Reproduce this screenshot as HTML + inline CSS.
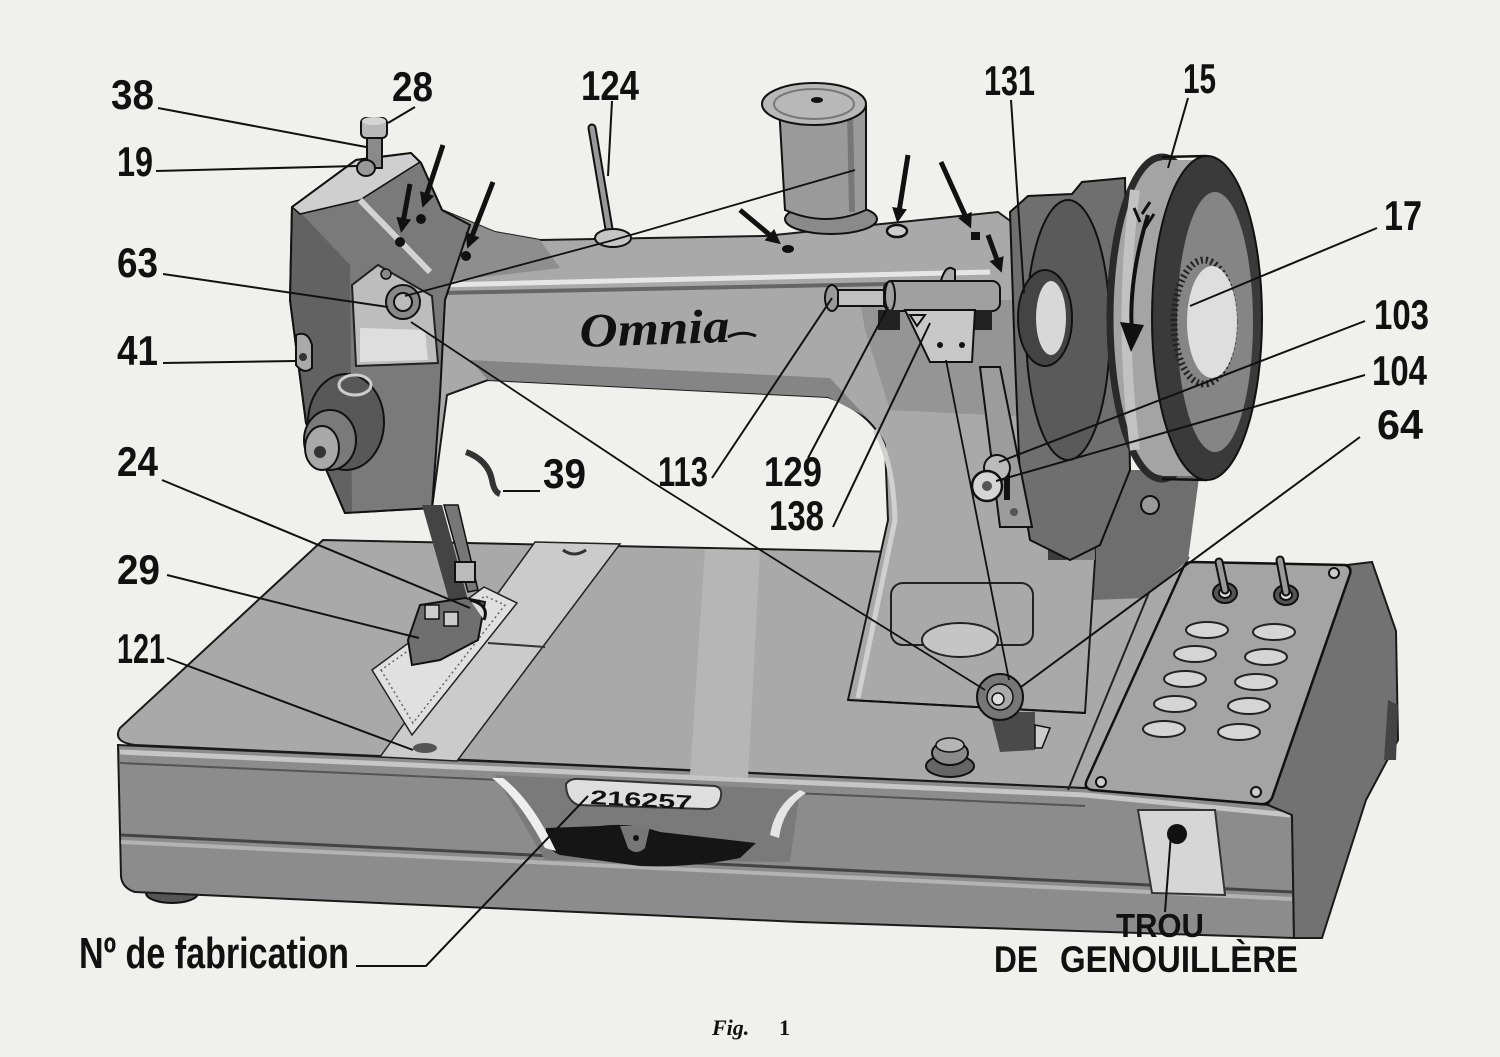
<!DOCTYPE html>
<html><head><meta charset="utf-8"><style>
html,body{margin:0;padding:0;background:#f0f0ec;}
svg{display:block}
</style></head><body>
<svg width="1500" height="1057" viewBox="0 0 1500 1057" xmlns="http://www.w3.org/2000/svg">
<defs>
<marker id="ah" markerWidth="3" markerHeight="3" refX="2" refY="1.5" orient="auto" markerUnits="strokeWidth"><path d="M0,0 L3,1.5 L0,3 Z" fill="#111"/></marker>
</defs>
<rect width="1500" height="1057" fill="#f0f0ec"/>

<!-- foot -->
<ellipse cx="172" cy="893" rx="26" ry="10" fill="#555" stroke="#111" stroke-width="2"/>

<!-- base front face -->
<path d="M118,745 L1085,788 L1268,805 L1292,815 L1294,938 L800,922 L135,892 Q122,888 121,876 Z" fill="#8c8c8c" stroke="#1a1a1a" stroke-width="2"/>
<path d="M120,752 L1085,795 L1290,815" stroke="#c6c6c6" stroke-width="5" fill="none"/>
<path d="M120,763 L1085,806" stroke="#555" stroke-width="2" fill="none"/>
<path d="M121,835 L1292,892" stroke="#444" stroke-width="3" fill="none"/>
<path d="M121,842 L1292,899" stroke="#b3b3b3" stroke-width="4" fill="none"/>
<!-- cavity area -->
<path d="M495,775 L800,790 L790,862 L545,860 Z" fill="#7a7a7a"/>
<path d="M546,828 L600,826 Q630,822 660,832 L756,843 L740,858 Q690,868 640,866 L560,855 Q545,850 546,828 Z" fill="#151515"/>
<path d="M620,826 L650,826 L645,848 Q636,856 628,848 Z" fill="#777"/>
<circle cx="636" cy="838" r="3" fill="#111"/>
<path d="M492,778 Q520,800 545,848 L556,851 Q532,800 503,778 Z" fill="#eeeeee"/>
<path d="M770,835 Q775,805 800,790 L806,793 Q783,808 779,838 Z" fill="#e5e5e5"/>
<!-- serial plate -->
<path d="M566,784 Q570,778 580,779 L715,786 Q724,788 720,800 Q716,810 705,809 L578,805 Q566,800 566,784 Z" fill="#dedede" stroke="#333" stroke-width="2"/>
<text x="590" y="804" font-family="Liberation Sans, sans-serif" font-weight="bold" font-size="20" textLength="102" lengthAdjust="spacingAndGlyphs" fill="#111" transform="rotate(3 590 804)">216257</text>
<!-- knee plate -->
<path d="M1138,810 L1215,810 L1225,895 L1152,893 Z" fill="#d6d6d6" stroke="#333" stroke-width="2"/>
<circle cx="1177" cy="834" r="10" fill="#111"/>

<!-- right face -->
<path d="M1347,565 L1372,562 L1396,631 L1398,740 L1366,800 L1322,938 L1294,938 L1292,815 L1268,805 Z" fill="#727272" stroke="#1a1a1a" stroke-width="2"/>
<path d="M1388,700 L1398,705 L1396,760 L1384,760 Z" fill="#444"/>

<!-- bed top -->
<path d="M323,540 L1188,558 L1085,788 L135,745 Q112,742 120,728 Z" fill="#a9a9a9" stroke="#1a1a1a" stroke-width="2"/>
<path d="M705,549 L760,550 L748,778 L690,775 Z" fill="#b6b6b6"/>
<path d="M535,542 L620,544 L457,761 L380,757 Z" fill="#cbcbcb" stroke="#222" stroke-width="1.5"/>
<path d="M488,643 L545,647" stroke="#333" stroke-width="2"/>
<path d="M563,550 Q574,558 586,550" stroke="#333" stroke-width="3" fill="none"/>
<ellipse cx="425" cy="748" rx="12" ry="5" fill="#555"/>
<path d="M1150,590 L1068,790" stroke="#222" stroke-width="2"/>
<!-- fabric -->
<path d="M372,670 L412,735 L517,603 L484,587 Z" fill="#e0e0e0" stroke="#222" stroke-width="1.5"/>
<path d="M381,670 L413,723 L505,605 L485,596 Z" fill="none" stroke="#666" stroke-width="1.5" stroke-dasharray="2 3"/>

<!-- control panel -->
<path d="M1192,562 L1345,565 Q1352,567 1350,574 L1272,798 Q1268,805 1260,804 L1092,790 Q1083,788 1087,780 L1183,568 Q1186,562 1192,562 Z" fill="#a4a4a4" stroke="#111" stroke-width="2.5"/>
<circle cx="1334" cy="573" r="5" fill="#ccc" stroke="#111" stroke-width="2"/>
<circle cx="1101" cy="782" r="5" fill="#ccc" stroke="#111" stroke-width="2"/>
<circle cx="1256" cy="792" r="5" fill="#ccc" stroke="#111" stroke-width="2"/>
<g stroke="#111" stroke-width="2">
<ellipse cx="1225" cy="593" rx="12" ry="10" fill="#555"/>
<ellipse cx="1225" cy="593" rx="6" ry="5" fill="#ddd"/>
<ellipse cx="1286" cy="595" rx="12" ry="10" fill="#555"/>
<ellipse cx="1286" cy="595" rx="6" ry="5" fill="#ddd"/>
</g>
<path d="M1225,590 L1219,562" stroke="#111" stroke-width="9" stroke-linecap="round"/>
<path d="M1225,590 L1219,562" stroke="#999" stroke-width="5" stroke-linecap="round"/>
<path d="M1286,592 L1280,560" stroke="#111" stroke-width="9" stroke-linecap="round"/>
<path d="M1286,592 L1280,560" stroke="#999" stroke-width="5" stroke-linecap="round"/>
<g fill="#d5d5d5" stroke="#222" stroke-width="2">
<ellipse cx="1207" cy="630" rx="21" ry="8"/>
<ellipse cx="1195" cy="654" rx="21" ry="8"/>
<ellipse cx="1185" cy="679" rx="21" ry="8"/>
<ellipse cx="1175" cy="704" rx="21" ry="8"/>
<ellipse cx="1164" cy="729" rx="21" ry="8"/>
<ellipse cx="1274" cy="632" rx="21" ry="8"/>
<ellipse cx="1266" cy="657" rx="21" ry="8"/>
<ellipse cx="1256" cy="682" rx="21" ry="8"/>
<ellipse cx="1249" cy="706" rx="21" ry="8"/>
<ellipse cx="1239" cy="732" rx="21" ry="8"/>
</g>

<!-- dark bracket area between column and panel -->
<path d="M1090,470 L1200,470 L1188,560 L1144,598 L1092,600 Z" fill="#6e6e6e"/>
<circle cx="1105" cy="500" r="9" fill="#999" stroke="#111" stroke-width="2"/>
<circle cx="1150" cy="505" r="9" fill="#999" stroke="#111" stroke-width="2"/>
<path d="M1080,520 Q1078,560 1090,605" stroke="#ccc" stroke-width="4" fill="none"/>

<!-- arm + column -->
<path d="M292,207 L356,160 L411,153 L421,163 L442,210 L495,232 L540,240 L765,236 L998,212 L1020,228 L1028,300 L1030,360 L1092,380 L1095,560 L1085,713 L848,700 L888,520 L885,445 Q870,412 828,397 L488,380 L447,395 L432,508 L345,513 L306,423 L290,300 Z" fill="#a9a9a9" stroke="#1a1a1a" stroke-width="2"/>
<!-- arm shading -->
<path d="M421,163 L442,210 L495,232 L540,240 L560,268 L440,282 L418,230 Z" fill="#8e8e8e"/>
<path d="M440,285 L990,272" stroke="#e6e6e6" stroke-width="5"/>
<path d="M440,293 L990,282" stroke="#666" stroke-width="4"/>
<path d="M470,360 L830,378 L866,417 L828,397 L488,380 Z" fill="#858585"/>
<path d="M860,300 L1028,300 L1030,360 L1092,380 L1092,420 L890,410 L865,330 Z" fill="#959595"/>
<path d="M1030,360 L1092,380 L1095,560 L1060,560 Z" fill="#7a7a7a"/>
<rect x="1048" y="380" width="18" height="180" fill="#3d3d3d"/>
<path d="M875,430 Q893,460 895,520 L858,698" stroke="#d0d0d0" stroke-width="5" fill="none"/>
<!-- head -->
<path d="M292,207 L356,160 L411,153 L421,163 L442,210 L470,225 L445,300 L440,395 L432,508 L345,513 L306,423 L290,300 Z" fill="#7a7a7a"/>
<path d="M292,210 L300,212 L350,265 L352,512 L345,513 L306,423 L290,300 Z" fill="#626262"/>
<path d="M292,207 L356,160 L411,153 L420,162 L360,200 L300,214 Z" fill="#cfcfcf" stroke="#111" stroke-width="1.5"/>
<path d="M360,200 L430,272" stroke="#d2d2d2" stroke-width="6"/>
<path d="M292,207 L356,160 L411,153 L421,163 L442,210 L470,225 L445,300 L440,395 L432,508 L345,513 L306,423 L290,300 Z" fill="none" stroke="#111" stroke-width="2"/>
<path d="M352,285 L378,265 L432,296 L438,363 L356,366 Z" fill="#bdbdbd" stroke="#222" stroke-width="2"/>
<path d="M360,328 L425,330 L428,360 L360,362 Z" fill="#dedede"/>
<circle cx="386" cy="274" r="5" fill="#888" stroke="#111" stroke-width="1.5"/>
<circle cx="403" cy="302" r="17" fill="#888" stroke="#111" stroke-width="2"/>
<circle cx="403" cy="302" r="9" fill="#bbb" stroke="#111" stroke-width="2"/>

<!-- column plate -->
<rect x="891" y="583" width="142" height="62" rx="12" fill="none" stroke="#222" stroke-width="2"/>
<ellipse cx="960" cy="640" rx="38" ry="17" fill="#c5c5c5" stroke="#222" stroke-width="2"/>
<path d="M848,700 L1085,713" stroke="#111" stroke-width="2"/>

<!-- motor housing -->
<path d="M1010,212 L1028,196 L1072,194 L1082,182 L1125,178 L1130,470 L1100,545 L1070,560 L1030,540 L1020,480 L1015,360 Z" fill="#6f6f6f" stroke="#111" stroke-width="2"/>
<ellipse cx="1068" cy="330" rx="42" ry="130" fill="#5a5a5a" stroke="#111" stroke-width="2"/>
<ellipse cx="1045" cy="318" rx="27" ry="48" fill="#444" stroke="#111" stroke-width="2"/>
<ellipse cx="1051" cy="318" rx="15" ry="37" fill="#d8d8d8"/>

<!-- hand wheel -->
<ellipse cx="1162" cy="318" rx="52" ry="161" fill="#a4a4a4" stroke="#2a2a2a" stroke-width="7"/>
<rect x="1162" y="160" width="45" height="316" fill="#a4a4a4"/>
<path d="M1162,157 L1207,156 M1162,479 L1207,480" stroke="#111" stroke-width="2.5"/>
<path d="M1135,190 Q1118,318 1135,450" stroke="#c2c2c2" stroke-width="10" fill="none"/>
<ellipse cx="1207" cy="318" rx="55" ry="162" fill="#3a3a3a" stroke="#111" stroke-width="2"/>
<ellipse cx="1215" cy="322" rx="38" ry="130" fill="#858585"/>
<ellipse cx="1204" cy="322" rx="30" ry="62" fill="none" stroke="#222" stroke-width="7" stroke-dasharray="2 3"/>
<ellipse cx="1212" cy="322" rx="25" ry="56" fill="#dedede"/>
<path d="M1148,215 Q1128,280 1132,335" stroke="#111" stroke-width="4" fill="none"/>
<path d="M1120,322 L1144,325 L1131,352 Z" fill="#111"/>
<path d="M1140,222 L1134,208 M1145,228 L1154,214 M1142,214 L1150,202" stroke="#111" stroke-width="3"/>

<!-- spool pin -->
<path d="M592,128 L610,235" stroke="#111" stroke-width="9" stroke-linecap="round"/>
<path d="M592,128 L610,235" stroke="#999" stroke-width="5" stroke-linecap="round"/>
<ellipse cx="613" cy="238" rx="18" ry="9" fill="#c5c5c5" stroke="#111" stroke-width="2"/>
<!-- spool -->
<ellipse cx="831" cy="219" rx="46" ry="15" fill="#8a8a8a" stroke="#111" stroke-width="2"/>
<path d="M779,106 L785,210 Q826,228 866,210 L866,106 Z" fill="#9a9a9a" stroke="#111" stroke-width="2"/>
<path d="M850,110 L852,212" stroke="#777" stroke-width="6"/>
<ellipse cx="814" cy="104" rx="52" ry="21" fill="#b8b8b8" stroke="#111" stroke-width="2"/>
<ellipse cx="814" cy="104" rx="40" ry="15" fill="none" stroke="#777" stroke-width="2"/>
<ellipse cx="817" cy="100" rx="6" ry="3" fill="#111"/>

<!-- bobbin winder -->
<ellipse cx="832" cy="298" rx="7" ry="13" fill="#999" stroke="#111" stroke-width="2"/>
<rect x="838" y="290" width="48" height="16" fill="#c0c0c0" stroke="#111" stroke-width="2"/>
<path d="M940,285 Q945,262 955,270 L955,285 Z" fill="#aaa" stroke="#111" stroke-width="2"/>
<rect x="884" y="281" width="116" height="30" rx="8" fill="#a0a0a0" stroke="#111" stroke-width="2"/>
<ellipse cx="890" cy="296" rx="5" ry="15" fill="none" stroke="#111" stroke-width="2"/>
<rect x="878" y="310" width="22" height="20" fill="#222"/>
<rect x="968" y="310" width="24" height="20" fill="#222"/>
<path d="M905,310 L975,310 L972,362 L930,362 Z" fill="#c8c8c8" stroke="#111" stroke-width="2"/>
<path d="M910,315 L925,315 L917,326 Z" fill="none" stroke="#111" stroke-width="2"/>
<circle cx="940" cy="345" r="3" fill="#111"/>
<circle cx="962" cy="345" r="3" fill="#111"/>
<!-- tension plate -->
<path d="M980,367 L1000,367 L1032,527 L1000,527 Z" fill="#9c9c9c" stroke="#111" stroke-width="2"/>
<rect x="1004" y="470" width="6" height="30" fill="#111"/>
<circle cx="1014" cy="512" r="4" fill="#555"/>
<circle cx="997" cy="468" r="13" fill="#bbb" stroke="#111" stroke-width="2"/>
<circle cx="987" cy="486" r="15" fill="#d5d5d5" stroke="#111" stroke-width="2.5"/>
<circle cx="987" cy="486" r="5" fill="#555"/>

<!-- knob 64 -->
<path d="M990,712 L1035,712 L1035,750 L1000,752 Z" fill="#4a4a4a"/>
<path d="M1035,725 L1050,728 L1042,748 L1035,748 Z" fill="#ccc" stroke="#111" stroke-width="1.5"/>
<circle cx="1000" cy="697" r="23" fill="#777" stroke="#111" stroke-width="2"/>
<circle cx="1000" cy="697" r="13" fill="#aaa" stroke="#111" stroke-width="1.5"/>
<circle cx="998" cy="699" r="6" fill="#ddd" stroke="#111" stroke-width="1.5"/>
<!-- knurled knob -->
<ellipse cx="950" cy="766" rx="24" ry="11" fill="#666" stroke="#111" stroke-width="2"/>
<ellipse cx="950" cy="753" rx="18" ry="12" fill="#8a8a8a" stroke="#111" stroke-width="2"/>
<ellipse cx="950" cy="745" rx="14" ry="7" fill="#b5b5b5" stroke="#111" stroke-width="1.5"/>

<!-- needle / presser -->
<path d="M422,505 L442,505 L468,600 L450,604 Z" fill="#444"/>
<path d="M444,505 L458,505 L478,590 L468,592 Z" fill="#777" stroke="#111" stroke-width="1.5"/>
<rect x="455" y="562" width="20" height="20" fill="#bbb" stroke="#111" stroke-width="2"/>
<path d="M408,640 L420,605 L465,598 L485,602 L478,640 L440,660 L412,665 Z" fill="#6f6f6f" stroke="#111" stroke-width="2"/>
<rect x="425" y="605" width="14" height="14" fill="#ccc" stroke="#111" stroke-width="1.5"/>
<rect x="444" y="612" width="14" height="14" fill="#ccc" stroke="#111" stroke-width="1.5"/>
<path d="M470,600 Q490,605 484,620" stroke="#111" stroke-width="3" fill="#ddd"/>
<!-- lever 39 -->
<path d="M466,452 Q488,460 492,480 Q494,492 500,494" stroke="#333" stroke-width="6" fill="none"/>
<!-- knob 41 -->
<path d="M296,335 Q308,330 312,345 L312,368 Q304,375 296,365 Z" fill="#aaa" stroke="#111" stroke-width="2"/>
<circle cx="303" cy="357" r="4" fill="#333"/>
<!-- tension assembly -->
<ellipse cx="346" cy="422" rx="38" ry="48" fill="#585858" stroke="#111" stroke-width="2"/>
<ellipse cx="355" cy="385" rx="16" ry="10" fill="none" stroke="#ccc" stroke-width="3"/>
<ellipse cx="330" cy="440" rx="26" ry="30" fill="#7a7a7a" stroke="#111" stroke-width="2"/>
<ellipse cx="322" cy="448" rx="17" ry="22" fill="#a8a8a8" stroke="#111" stroke-width="2"/>
<circle cx="320" cy="452" r="6" fill="#333"/>
<!-- top knob -->
<rect x="367" y="135" width="15" height="33" fill="#8a8a8a" stroke="#111" stroke-width="2"/>
<rect x="361" y="118" width="26" height="20" rx="5" fill="#b8b8b8" stroke="#111" stroke-width="2"/>
<ellipse cx="374" cy="121" rx="12" ry="4" fill="#d5d5d5"/>
<ellipse cx="366" cy="168" rx="9" ry="8" fill="#999" stroke="#111" stroke-width="2"/>

<!-- Omnia -->
<text x="580" y="347" font-family="Liberation Serif, serif" font-style="italic" font-weight="bold" font-size="48" textLength="150" lengthAdjust="spacingAndGlyphs" fill="#111" transform="rotate(-2 580 347)">Omnia</text>
<path d="M728,337 Q742,330 756,336" stroke="#111" stroke-width="3" fill="none"/>

<!-- oil arrows -->
<g stroke="#111" stroke-width="5" marker-end="url(#ah)">
<path d="M443,145 L424,203"/>
<path d="M410,184 L402,228"/>
<path d="M493,182 L469,244"/>
<path d="M740,210 L777,241"/>
<path d="M908,155 L898,218"/>
<path d="M941,162 L969,224"/>
<path d="M988,235 L1000,268"/>
</g>
<g fill="#111">
<circle cx="421" cy="219" r="5"/>
<circle cx="400" cy="242" r="5"/>
<circle cx="466" cy="256" r="5"/>
<ellipse cx="788" cy="249" rx="6" ry="4"/>
<rect x="971" y="232" width="9" height="8"/>
</g>
<ellipse cx="897" cy="231" rx="10" ry="6" fill="#ccc" stroke="#111" stroke-width="2.5"/>

<!-- thread lines -->
<g stroke="#111" stroke-width="1.8" fill="none">
<path d="M405,296 L610,241 L855,170"/>
<path d="M411,322 L649,480 L800,575 L985,690"/>
<path d="M946,360 L1009,680"/>
</g>

<!-- leader lines -->
<g stroke="#111" stroke-width="2" fill="none">
<path d="M158,108 L366,147"/>
<path d="M415,107 L388,123"/>
<path d="M156,171 L357,166"/>
<path d="M163,274 L388,307"/>
<path d="M163,363 L295,361"/>
<path d="M162,480 L470,608"/>
<path d="M540,491 L503,491"/>
<path d="M612,101 L608,176"/>
<path d="M712,478 L832,298"/>
<path d="M808,458 L888,307"/>
<path d="M833,527 L930,323"/>
<path d="M1011,100 L1024,293"/>
<path d="M1188,98 L1168,168"/>
<path d="M1377,228 L1190,306"/>
<path d="M1365,321 L999,462"/>
<path d="M1365,375 L996,481"/>
<path d="M1360,437 L1021,687"/>
<path d="M167,575 L419,638"/>
<path d="M167,658 L413,750"/>
<path d="M356,966 L426,966 L588,796"/>
<path d="M1165,912 L1171,834"/>
</g>

<!-- labels -->
<g font-family="Liberation Sans, sans-serif" font-weight="bold" font-size="42" fill="#111">
<text x="111" y="109" textLength="43" lengthAdjust="spacingAndGlyphs">38</text>
<text x="392" y="101" textLength="41" lengthAdjust="spacingAndGlyphs">28</text>
<text x="581" y="100" textLength="58" lengthAdjust="spacingAndGlyphs">124</text>
<text x="117" y="176" textLength="36" lengthAdjust="spacingAndGlyphs">19</text>
<text x="117" y="277" textLength="41" lengthAdjust="spacingAndGlyphs">63</text>
<text x="117" y="365" textLength="41" lengthAdjust="spacingAndGlyphs">41</text>
<text x="117" y="476" textLength="41" lengthAdjust="spacingAndGlyphs">24</text>
<text x="543" y="488" textLength="43" lengthAdjust="spacingAndGlyphs">39</text>
<text x="658" y="486" textLength="50" lengthAdjust="spacingAndGlyphs">113</text>
<text x="984" y="95" textLength="51" lengthAdjust="spacingAndGlyphs">131</text>
<text x="1183" y="93" textLength="33" lengthAdjust="spacingAndGlyphs">15</text>
<text x="1384" y="230" textLength="38" lengthAdjust="spacingAndGlyphs">17</text>
<text x="1374" y="329" textLength="55" lengthAdjust="spacingAndGlyphs">103</text>
<text x="1372" y="385" textLength="55" lengthAdjust="spacingAndGlyphs">104</text>
<text x="1377" y="439" textLength="46" lengthAdjust="spacingAndGlyphs">64</text>
<text x="764" y="486" textLength="58" lengthAdjust="spacingAndGlyphs">129</text>
<text x="769" y="530" textLength="55" lengthAdjust="spacingAndGlyphs">138</text>
<text x="117" y="584" textLength="43" lengthAdjust="spacingAndGlyphs">29</text>
<text x="117" y="663" textLength="48" lengthAdjust="spacingAndGlyphs">121</text>
</g>
<text x="79" y="968" font-family="Liberation Sans, sans-serif" font-weight="bold" font-size="44" textLength="270" lengthAdjust="spacingAndGlyphs" fill="#111">Nº de fabrication</text>
<text x="1116" y="937" font-family="Liberation Sans, sans-serif" font-weight="bold" font-size="33" textLength="88" lengthAdjust="spacingAndGlyphs" fill="#111">TROU</text>
<text x="994" y="972" font-family="Liberation Sans, sans-serif" font-weight="bold" font-size="37" textLength="44" lengthAdjust="spacingAndGlyphs" fill="#111">DE</text>
<text x="1060" y="972" font-family="Liberation Sans, sans-serif" font-weight="bold" font-size="37" textLength="238" lengthAdjust="spacingAndGlyphs" fill="#111">GENOUILLÈRE</text>
<text x="712" y="1035" font-family="Liberation Serif, serif" font-style="italic" font-weight="bold" font-size="22" fill="#111">Fig.</text>
<text x="779" y="1035" font-family="Liberation Serif, serif" font-weight="bold" font-size="22" fill="#111">1</text>
</svg>
</body></html>
